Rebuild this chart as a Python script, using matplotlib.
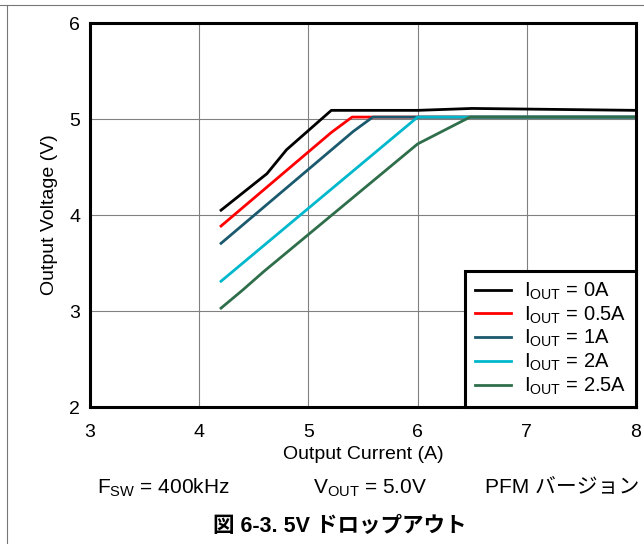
import matplotlib
matplotlib.use('Agg')
from matplotlib import pyplot as plt
from matplotlib.lines import Line2D

plt.rcParams['font.family'] = ['Liberation Sans', 'Noto Sans CJK JP', 'DejaVu Sans']

# data
x_0a = [4.2, 4.62, 4.80, 5.21, 6.0, 6.5, 8.0]
y_0a = [4.05, 4.43, 4.68, 5.09, 5.09, 5.11, 5.09]
x_05a = [4.2, 5.21, 5.40, 8.0]
y_05a = [3.885, 4.86, 5.02, 5.02]
x_1a = [4.2, 5.41, 5.59, 8.0]
y_1a = [3.705, 4.87, 5.02, 5.02]
x_2a = [4.2, 6.0, 8.0]
y_2a = [3.31, 5.02, 5.02]
x_25a = [4.2, 4.40, 4.59, 6.0, 6.48, 8.0]
y_25a = [3.03, 3.22, 3.41, 4.74, 5.02, 5.02]

series = [
    (x_0a, y_0a, 'black', r'I$_\mathregular{OUT}$ = 0A'),
    (x_05a, y_05a, '#ff0000', r'I$_\mathregular{OUT}$ = 0.5A'),
    (x_1a, y_1a, '#1b5a6e', r'I$_\mathregular{OUT}$ = 1A'),
    (x_2a, y_2a, '#00b8cc', r'I$_\mathregular{OUT}$ = 2A'),
    (x_25a, y_25a, '#2f6e4a', r'I$_\mathregular{OUT}$ = 2.5A'),
]

fig = plt.figure(figsize=(6.44, 5.44), dpi=100)
ax = fig.add_axes([90 / 644, 1 - 407 / 544, 546 / 644, 384 / 544])

for xs, ys, c, lab in series:
    ax.plot(xs, ys, color=c, linewidth=2, label=lab)

ax.set_xlim(3, 8)
ax.set_ylim(2, 6)
ax.set_xticks([3, 4, 5, 6, 7, 8])
ax.set_yticks([2, 3, 4, 5, 6])
ax.grid(True, color='#808080', linewidth=0.8)
ax.tick_params(length=0, labelsize=14)
ax.tick_params(axis='x', pad=12)
ax.tick_params(axis='y', pad=7)
for s in ax.spines.values():
    s.set_linewidth(2.2)
ax.set_xlabel('Output Current (A)', fontsize=14, labelpad=4)
ax.set_ylabel('Output Voltage (V)', fontsize=14, labelpad=8)

leg = ax.legend(loc='lower right', fontsize=14.5, frameon=True, fancybox=False,
                framealpha=1, edgecolor='black', borderaxespad=0,
                handlelength=1.8, handletextpad=0.6, labelspacing=0.12, borderpad=0.5)
leg.get_frame().set_linewidth(2.2)

fig.text(163 / 644, 1 - 488 / 544, r'F$_\mathregular{SW}$ = 400kHz', fontsize=15, ha='center', va='center')
fig.text(370 / 644, 1 - 488 / 544, r'V$_\mathregular{OUT}$ = 5.0V', fontsize=15, ha='center', va='center')
fig.text(562 / 644, 1 - 488 / 544, 'PFM バージョン', fontsize=15, ha='center', va='center')
fig.text(340 / 644, 1 - 527 / 544, '図 6-3. 5V ドロップアウト', fontsize=15.5, fontweight='bold',
         ha='center', va='center')

# outer frame lines
fig.add_artist(Line2D([0, 1], [1 - 5 / 544, 1 - 5 / 544], color='#777777', linewidth=0.8))
fig.add_artist(Line2D([7 / 644, 7 / 644], [0, 1 - 5 / 544], color='#777777', linewidth=0.8))

fig.savefig('out.png', dpi=100)
